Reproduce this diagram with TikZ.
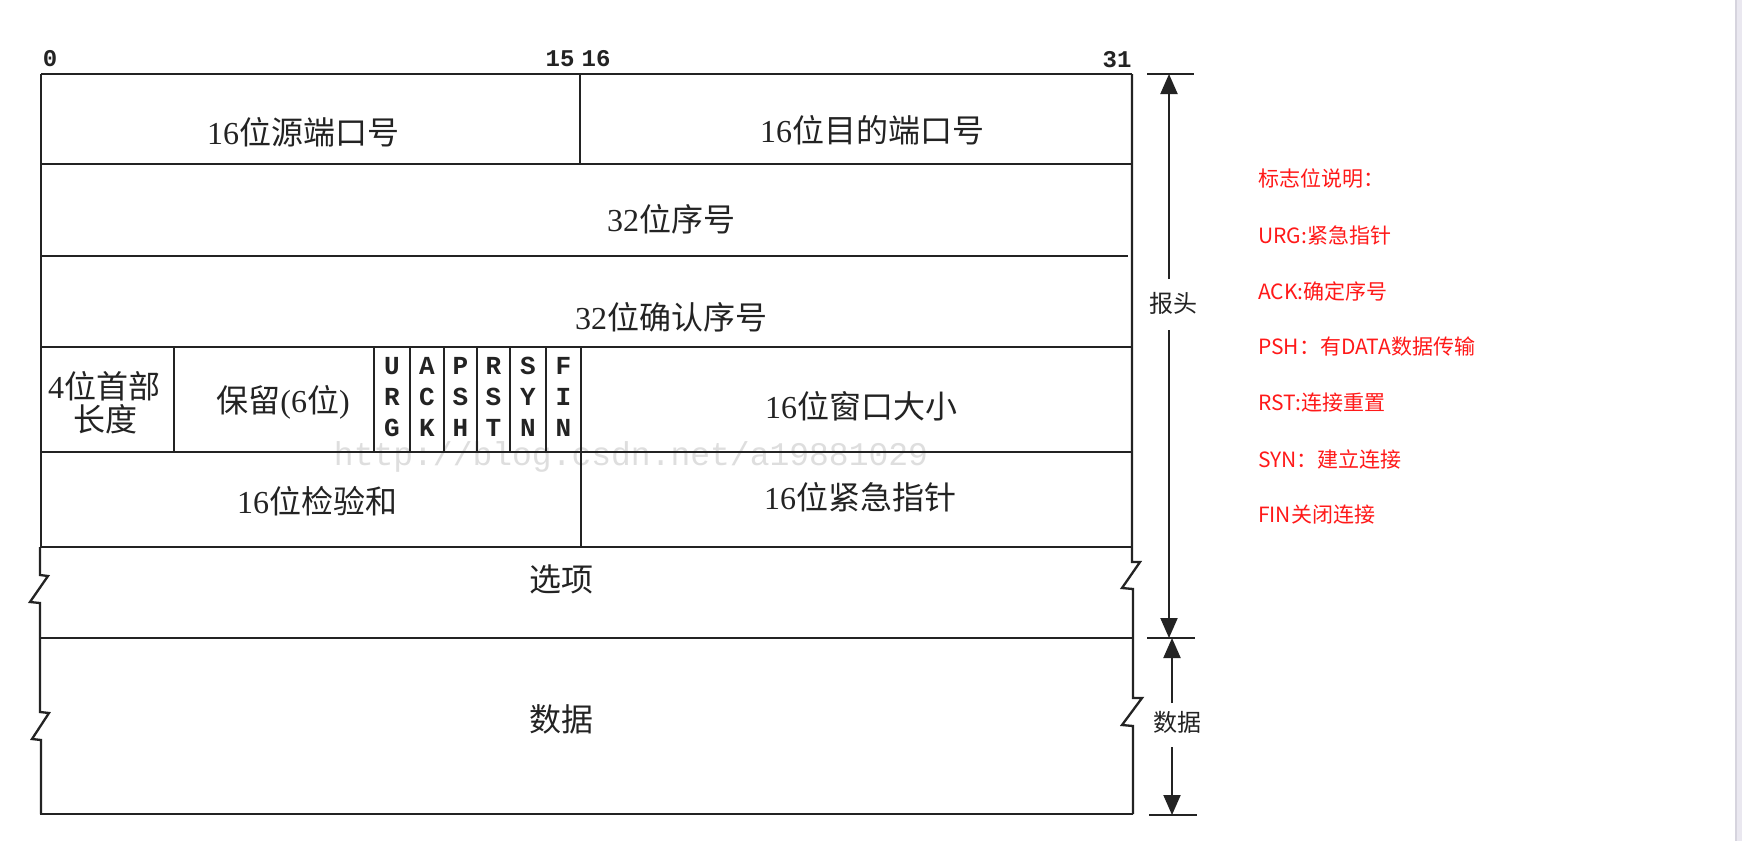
\documentclass[tikz,border=0pt]{standalone}
\usepackage{fontspec}
\setmainfont{Liberation Serif}
\newfontfamily\cjk{Noto Sans CJK SC}
\newfontfamily\monof{Liberation Mono}
\usetikzlibrary{arrows.meta}
\definecolor{ln}{RGB}{35,35,35}
\definecolor{wm}{RGB}{222,222,222}
\definecolor{redtxt}{RGB}{255,25,25}
\definecolor{stripA}{RGB}{214,212,222}
\definecolor{stripB}{RGB}{234,232,240}
\newcommand\zh[1]{{\cjk #1}}
\begin{document}
\begin{tikzpicture}[x=1pt,y=-1pt,
  tl/.style={draw=ln,line width=2.3pt,line join=miter},
  dimline/.style={draw=ln,line width=2pt},
  tip/.style={-{Triangle[length=20pt,width=17pt]}},
  cell/.style={font=\fontsize{32}{36}\selectfont,inner sep=0pt,text=ln},
  flagtxt/.style={font=\monof\bfseries\fontsize{26}{26}\selectfont,inner sep=0pt,text=ln},
  bitnum/.style={font=\monof\bfseries\fontsize{24}{24}\selectfont,inner sep=0pt,text=ln},
  note/.style={font=\cjk\fontsize{21}{21}\selectfont,text=redtxt,anchor=west,inner sep=0pt},
  dimlbl/.style={font=\cjk\fontsize{24}{24}\selectfont,inner sep=0pt,text=ln},
  wmark/.style={font=\monof\fontsize{33}{33}\selectfont,inner sep=0pt,text=wm}]
\useasboundingbox (0,0) rectangle (1742,841);
\fill[white] (0,0) rectangle (1742,841);
% right strip
\fill[stripB] (1735,0) rectangle (1742,841);
\fill[stripA] (1735,0) rectangle (1737,841);

% watermark (behind)
\node[wmark] (wmk) at (631,457) {http://blog.csdn.net/a19881029};

% table lines
\draw[tl] (41,74) -- (1132,74);
\draw[tl] (41,74) -- (41,547);
\draw[tl] (1132,74) -- (1132,562) -- (1140,562) -- (1122,588) -- (1133,589) -- (1133,698) -- (1142,698) -- (1122,725) -- (1133,726) -- (1133,814);
\draw[tl] (40,547) -- (40,575) -- (48,576) -- (30,602) -- (40,603) -- (40,712) -- (49,713) -- (32,739) -- (41,740) -- (41,814);
\draw[tl] (41,164) -- (1132,164);
\draw[tl] (41,256) -- (1128,256);
\draw[tl] (41,347) -- (1132,347);
\draw[tl] (40,452) -- (1132,452);
\draw[tl] (40,547) -- (1132,547);
\draw[tl] (40,638) -- (1133,638);
\draw[tl] (40,814) -- (1133,814);
\draw[tl] (580,74) -- (580,164);
\foreach \x in {174,374,410,444,477,510,546,581}
  \draw[tl] (\x,347) -- (\x,452);
\draw[tl] (581,452) -- (581,547);

% bit numbers
\node[bitnum] (b0) at (50,59) {0};
\node[bitnum] (b15) at (560,59) {15};
\node[bitnum] (b16) at (596,59) {16};
\node[bitnum] (b31) at (1117,60) {31};

% cell texts
\node[cell] (srcp) at (303,132) {16\zh{位源端口号}};
\node[cell] (dstp) at (872,130) {16\zh{位目的端口号}};
\node[cell] (seq) at (671,219) {32\zh{位序号}};
\node[cell] (ack) at (671,317) {32\zh{位确认序号}};
\node[cell] (hl1) at (104,386) {4\zh{位首部}};
\node[cell] (hl2) at (105,419) {\zh{长度}};
\node[cell] (rsv) at (283,402) {\zh{保留}(6\zh{位})};
\node[cell] (win) at (861,406) {16\zh{位窗口大小}};
\node[cell] (chk) at (317,501) {16\zh{位检验和}};
\node[cell] (urgp) at (860,497) {16\zh{位紧急指针}};
\node[cell] (opt) at (561,579) {\zh{选项}};
\node[cell] (dat) at (561,719) {\zh{数据}};

% flags
\foreach \c/\xa/\la/\lb/\lc in {1/392/U/R/G,2/427/A/C/K,3/460.5/P/S/H,4/493.5/R/S/T,5/528/S/Y/N,6/563.5/F/I/N}{
  \node[flagtxt] (f\c a) at (\xa,366) {\la};
  \node[flagtxt] (f\c b) at (\xa,397) {\lb};
  \node[flagtxt] (f\c c) at (\xa,428) {\lc};
}

% dimension arrows
\coordinate (tkT1) at (1147,74); \coordinate (tkT2) at (1194,74);
\coordinate (tkM1) at (1147,638); \coordinate (tkM2) at (1195,638);
\coordinate (tkB1) at (1149,815); \coordinate (tkB2) at (1197,815);
\draw[dimline] (tkT1) -- (tkT2);
\draw[dimline] (tkM1) -- (tkM2);
\draw[dimline] (tkB1) -- (tkB2);
\node[dimlbl] (hdr) at (1173,303) {报头};
\coordinate (hTop) at (1169,74); \coordinate (hA) at (1169,279);
\coordinate (hB) at (1169,330); \coordinate (hBot) at (1169,638);
\draw[dimline,tip] (hA) -- (hTop);
\draw[dimline,tip] (hB) -- (hBot);
\node[dimlbl] (dlb) at (1177,722) {数据};
\coordinate (dTop) at (1172,638); \coordinate (dA) at (1172,703);
\coordinate (dB) at (1172,747); \coordinate (dBot) at (1172,815);
\draw[dimline,tip] (dA) -- (dTop);
\draw[dimline,tip] (dB) -- (dBot);

% notes
\node[note] (n0) at (1258,179) {标志位说明：};
\node[note] (n1) at (1258,235) {URG:紧急指针};
\node[note] (n2) at (1258,291) {ACK:确定序号};
\node[note] (n3) at (1258,347) {PSH：有DATA数据传输};
\node[note] (n4) at (1258,403) {RST:连接重置};
\node[note] (n5) at (1258,459) {SYN：建立连接};
\node[note] (n6) at (1258,515) {FIN关闭连接};
\end{tikzpicture}
\end{document}
